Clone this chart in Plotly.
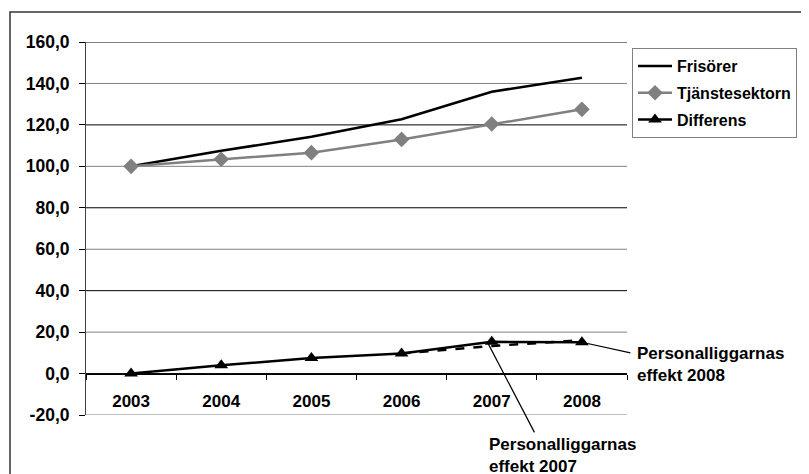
import plotly.graph_objects as go

years = [2003, 2004, 2005, 2006, 2007, 2008]
year_labels = ["2003", "2004", "2005", "2006", "2007", "2008"]
frisorer = [100.0, 107.5, 114.3, 122.7, 136.0, 142.8]
tjanstesektorn = [100.0, 103.4, 106.6, 113.0, 120.4, 127.5]
differens = [0.0, 4.0, 7.5, 9.7, 15.3, 15.1]
effekt_years = [2006, 2007, 2008]
effekt_values = [9.7, 13.3, 16.1]
y_ticks = [-20, 0, 20, 40, 60, 80, 100, 120, 140, 160]
y_tick_labels = ["-20,0", "0,0", "20,0", "40,0", "60,0", "80,0", "100,0", "120,0", "140,0", "160,0"]

FONT = "Liberation Sans, Arial, sans-serif"
OFF = 8  # page body margin
W, H = 809 - OFF, 474 - OFF
L, R, T, B = 86 - OFF, 627 - OFF, 42 - OFF, 415 - OFF
pw, ph = R - L, B - T


def px(X):
    return (X - OFF - L) / pw


def py(Y):
    return (B - (Y - OFF)) / ph


def f(size=17):
    return dict(family=FONT, size=size, color="black", weight="bold")


fig = go.Figure()
fig.add_trace(go.Scatter(x=years, y=frisorer, name="Frisörer", mode="lines",
                         line=dict(color="black", width=2.5), legendgroup="a"))
fig.add_trace(go.Scatter(x=years, y=tjanstesektorn, name="Tjänstesektorn", mode="lines+markers",
                         line=dict(color="#808080", width=2.5),
                         marker=dict(symbol="diamond", size=12, color="#808080"), legendgroup="b"))
fig.add_trace(go.Scatter(x=effekt_years, y=effekt_values, name="effekt", mode="lines",
                         line=dict(color="black", width=2.5, dash="dash"), showlegend=False))
fig.add_trace(go.Scatter(x=years, y=differens, name="Differens", mode="lines+markers",
                         line=dict(color="black", width=2.5),
                         marker=dict(symbol="triangle-up", size=12, color="black"), legendgroup="c"))

shapes = []
for i, v in enumerate(sorted(y_ticks, reverse=True)):
    shapes.append(dict(type="line", xref="paper", yref="y", x0=0, x1=1, y0=v, y1=v,
                       line=dict(color="black" if i % 2 == 0 else "#808080", width=1), layer="below"))
# outer chart border
shapes.append(dict(type="rect", xref="paper", yref="paper", x0=px(10), x1=px(820), y0=py(490), y1=py(12),
                   line=dict(color="#333333", width=1.5), layer="below"))

annotations = [
    dict(xref="x", yref="y", x=years[4] - 0.05, y=differens[4], text="", showarrow=True,
         axref="pixel", ayref="pixel", ax=48, ay=92, arrowhead=0, arrowwidth=1.2, arrowcolor="black", standoff=0),
    dict(xref="x", yref="y", x=years[5], y=differens[5], text="", showarrow=True,
         axref="pixel", ayref="pixel", ax=50, ay=11, arrowhead=0, arrowwidth=1.2, arrowcolor="black", standoff=0),
    dict(xref="paper", yref="paper", x=px(635), y=py(364), xanchor="left", yanchor="middle",
         text="Personalliggarnas<br>effekt 2008", showarrow=False, align="left", font=f()),
    dict(xref="paper", yref="paper", x=px(487), y=py(455), xanchor="left", yanchor="middle",
         text="Personalliggarnas<br>effekt 2007", showarrow=False, align="left", font=f()),
]

fig.update_layout(
    width=W, height=H,
    margin=dict(l=L, r=W - R, t=T, b=H - B, pad=0),
    paper_bgcolor="white", plot_bgcolor="white",
    font=f(),
    showlegend=True,
    legend=dict(x=px(632), y=py(48), xanchor="left", yanchor="top",
                bordercolor="#808080", borderwidth=1, bgcolor="white",
                font=f(16), tracegroupgap=3, traceorder="grouped", itemwidth=34),
    xaxis=dict(range=[2002.5, 2008.5], tickvals=years, ticktext=year_labels,
               anchor="free", position=20 / 180, showline=True, linecolor="black", linewidth=1,
               ticks="", showgrid=False, zeroline=False, ticklabelstandoff=12,
               tickfont=f(),
               minor=dict(ticks="outside", tick0=2002.5, dtick=1, ticklen=5, tickcolor="black",
                          showgrid=False)),
    yaxis=dict(range=[-20, 160], tickvals=y_ticks, ticktext=y_tick_labels, showgrid=False,
               zeroline=False, showline=True, linecolor="#404040", linewidth=1,
               ticks="outside", ticklen=6, tickcolor="black", ticklabelstandoff=6,
               tickfont=f(17.5)),
    shapes=shapes,
    annotations=annotations,
)

fig.write_html("out.html")
